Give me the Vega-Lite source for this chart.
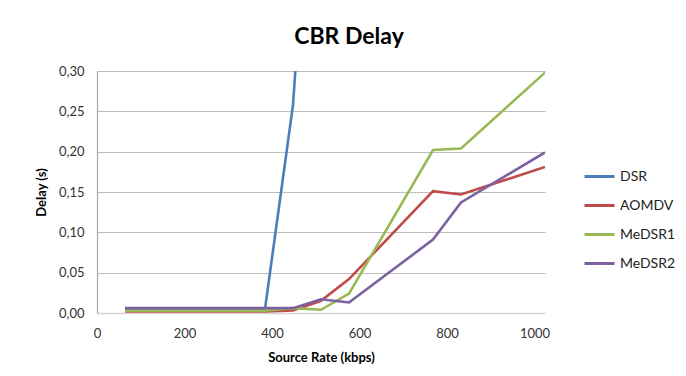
{
  "$schema": "https://vega.github.io/schema/vega-lite/v6.json",
  "width": 448,
  "height": 242,
  "padding": {"left": 97, "top": 71, "right": 141, "bottom": 63},
  "autosize": {"type": "none"},
  "background": "white",
  "title": {
    "text": "CBR Delay",
    "font": "Lato",
    "fontSize": 23,
    "fontWeight": "bold",
    "color": "#000000",
    "anchor": "middle",
    "offset": 16,
    "dx": 28
  },
  "config": {
    "locale": {
      "number": {"decimal": ",", "thousands": ".", "grouping": [3], "currency": ["", " €"]}
    },
    "view": {"stroke": null},
    "font": "Lato"
  },
  "data": {
    "values": [
      {"series": "DSR", "rate": 64, "delay": 0.005},
      {"series": "DSR", "rate": 384, "delay": 0.005},
      {"series": "DSR", "rate": 448, "delay": 0.258},
      {"series": "DSR", "rate": 512, "delay": 0.76},
      {"series": "AOMDV", "rate": 64, "delay": 0.002},
      {"series": "AOMDV", "rate": 384, "delay": 0.002},
      {"series": "AOMDV", "rate": 448, "delay": 0.003},
      {"series": "AOMDV", "rate": 512, "delay": 0.015},
      {"series": "AOMDV", "rate": 576, "delay": 0.042},
      {"series": "AOMDV", "rate": 768, "delay": 0.151},
      {"series": "AOMDV", "rate": 832, "delay": 0.147},
      {"series": "AOMDV", "rate": 1024, "delay": 0.181},
      {"series": "MeDSR1", "rate": 64, "delay": 0.003},
      {"series": "MeDSR1", "rate": 384, "delay": 0.003},
      {"series": "MeDSR1", "rate": 448, "delay": 0.006},
      {"series": "MeDSR1", "rate": 512, "delay": 0.004},
      {"series": "MeDSR1", "rate": 576, "delay": 0.024},
      {"series": "MeDSR1", "rate": 768, "delay": 0.202},
      {"series": "MeDSR1", "rate": 832, "delay": 0.204},
      {"series": "MeDSR1", "rate": 1024, "delay": 0.298},
      {"series": "MeDSR2", "rate": 64, "delay": 0.006},
      {"series": "MeDSR2", "rate": 384, "delay": 0.006},
      {"series": "MeDSR2", "rate": 448, "delay": 0.006},
      {"series": "MeDSR2", "rate": 512, "delay": 0.017},
      {"series": "MeDSR2", "rate": 576, "delay": 0.013},
      {"series": "MeDSR2", "rate": 768, "delay": 0.091},
      {"series": "MeDSR2", "rate": 832, "delay": 0.137},
      {"series": "MeDSR2", "rate": 1024, "delay": 0.199}
    ]
  },
  "mark": {"type": "line", "strokeWidth": 2.6, "clip": true},
  "encoding": {
    "x": {
      "field": "rate",
      "type": "quantitative",
      "scale": {"domain": [0, 1024], "nice": false, "zero": true},
      "axis": {
        "title": "Source Rate (kbps)",
        "values": [0, 200, 400, 600, 800, 1000],
        "format": "d",
        "grid": false,
        "ticks": false,
        "domainColor": "#d4d4d4",
        "domainWidth": 1.5,
        "labelFont": "Lato",
        "labelFontSize": 13,
        "labelColor": "#333333",
        "labelPadding": 14,
        "labelFlush": false,
        "titleFont": "Lato",
        "titleFontSize": 13,
        "titleFontWeight": "bold",
        "titleColor": "#000000",
        "titlePadding": 11
      }
    },
    "y": {
      "field": "delay",
      "type": "quantitative",
      "scale": {"domain": [0, 0.3], "nice": false},
      "axis": {
        "title": "Delay (s)",
        "values": [0, 0.05, 0.1, 0.15, 0.2, 0.25, 0.3],
        "format": ".2f",
        "grid": true,
        "gridColor": "#bdbdbd",
        "gridWidth": 1.2,
        "ticks": false,
        "domainColor": "#a8a8a8",
        "domainWidth": 1.2,
        "labelFont": "Lato",
        "labelFontSize": 13,
        "labelColor": "#333333",
        "labelPadding": 13,
        "titleFont": "Lato",
        "titleFontSize": 13,
        "titleFontWeight": "bold",
        "titleColor": "#000000",
        "titlePadding": 10
      }
    },
    "color": {
      "field": "series",
      "type": "nominal",
      "scale": {
        "domain": ["DSR", "AOMDV", "MeDSR1", "MeDSR2"],
        "range": ["#4a7ebb", "#be4b48", "#98b954", "#7d60a0"]
      },
      "legend": {
        "title": null,
        "orient": "none",
        "legendX": 486,
        "legendY": 89,
        "symbolType": "stroke",
        "symbolSize": 900,
        "symbolStrokeWidth": 3,
        "labelFont": "Lato",
        "labelFontSize": 14,
        "labelColor": "#222222",
        "labelOffset": 4,
        "rowPadding": 5,
        "padding": 0
      }
    }
  }
}
